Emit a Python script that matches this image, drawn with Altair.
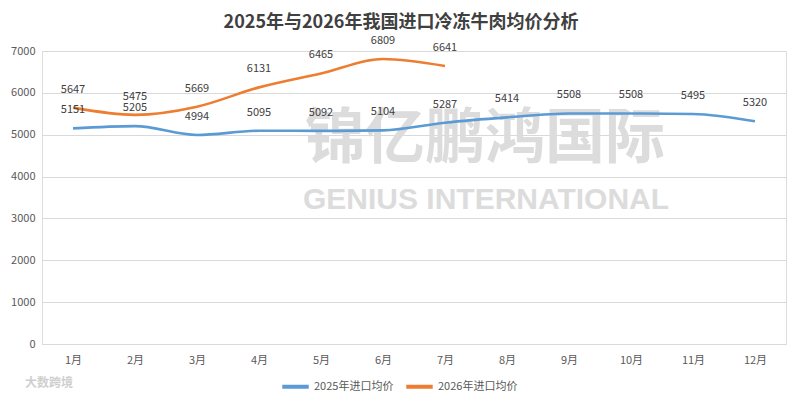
import altair as alt
import pandas as pd

months = ["1月", "2月", "3月", "4月", "5月", "6月", "7月", "8月", "9月", "10月", "11月", "12月"]
price_2025 = [5151, 5205, 4994, 5095, 5092, 5104, 5287, 5414, 5508, 5508, 5495, 5320]
price_2026 = [5647, 5475, 5669, 6131, 6465, 6809, 6641]
series_names = ["2025年进口均价", "2026年进口均价"]
colors = ["#5B9BD5", "#ED7D31"]

rows = []
for m, v in zip(months, price_2025):
    rows.append({"月份": m, "均价": v, "系列": series_names[0]})
for m, v in zip(months, price_2026):
    rows.append({"月份": m, "均价": v, "系列": series_names[1]})
df = pd.DataFrame(rows)

FONT = "Noto Sans CJK SC"

x_enc = alt.X("月份:N", sort=months, scale=alt.Scale(domain=months, padding=0.5),
              axis=alt.Axis(title=None, labelAngle=0, labelFontSize=11, labelColor="#595959",
                            labelFont=FONT, ticks=False, domainColor="#d9d9d9",
                            labelPadding=10, grid=False))
y_enc = alt.Y("均价:Q", scale=alt.Scale(domain=[0, 7000], nice=False),
              axis=alt.Axis(title=None, values=list(range(0, 7001, 1000)), format="d",
                            labelFontSize=11, labelColor="#595959", labelFont=FONT, ticks=False,
                            domain=False, gridColor="#d9d9d9", labelPadding=7))
color_enc = alt.Color("系列:N", scale=alt.Scale(domain=series_names, range=colors),
                      legend=alt.Legend(title=None, orient="none", direction="horizontal",
                                        legendX=238, legendY=320, symbolType="stroke",
                                        symbolSize=700, symbolStrokeWidth=4,
                                        labelFontSize=11, labelColor="#595959", labelFont=FONT,
                                        columnPadding=4, symbolOffset=0, labelOffset=3))

wm1 = alt.Chart(pd.DataFrame({"t": ["锦亿鹏鸿国际"]})).mark_text(
    fontSize=60, color="#dcdcdc", font=FONT, fontWeight="bold",
    align="center", baseline="middle").encode(text="t:N", x=alt.value(443), y=alt.value(89))
wm2 = alt.Chart(pd.DataFrame({"t": ["GENIUS INTERNATIONAL"]})).mark_text(
    fontSize=30, color="#dcdcdc", font="Liberation Sans", fontWeight="bold",
    align="center", baseline="middle").encode(text="t:N", x=alt.value(444), y=alt.value(149))
wm3 = alt.Chart(pd.DataFrame({"t": ["大数跨境"]})).mark_text(
    fontSize=12, color="#cfcfcf", font=FONT, fontWeight="bold",
    align="left", baseline="middle").encode(text="t:N", x=alt.value(-17), y=alt.value(332))

lines = alt.Chart(df).mark_line(strokeWidth=2.6, interpolate="monotone").encode(
    x=x_enc, y=y_enc, color=color_enc, detail="系列:N")
labels = alt.Chart(df).mark_text(dy=-18, fontSize=11, color="#404040", font=FONT).encode(
    x=alt.X("月份:N", sort=months, scale=alt.Scale(domain=months, padding=0.5)),
    y="均价:Q", text="均价:Q")

chart = alt.layer(wm1, wm2, wm3, lines, labels).properties(
    width=744, height=293,
    autosize=alt.AutoSizeParams(type="none"),
    padding={"left": 34, "top": 43, "right": 8, "bottom": 50},
    title=alt.TitleParams("2025年与2026年我国进口冷冻牛肉均价分析", fontSize=18, fontWeight="bold",
                          color="#404040", font=FONT, anchor="middle", dx=-13, offset=3),
).configure_view(stroke=None).configure(background="white")

chart.save("out.html", embed_options={"renderer": "svg", "actions": False})
